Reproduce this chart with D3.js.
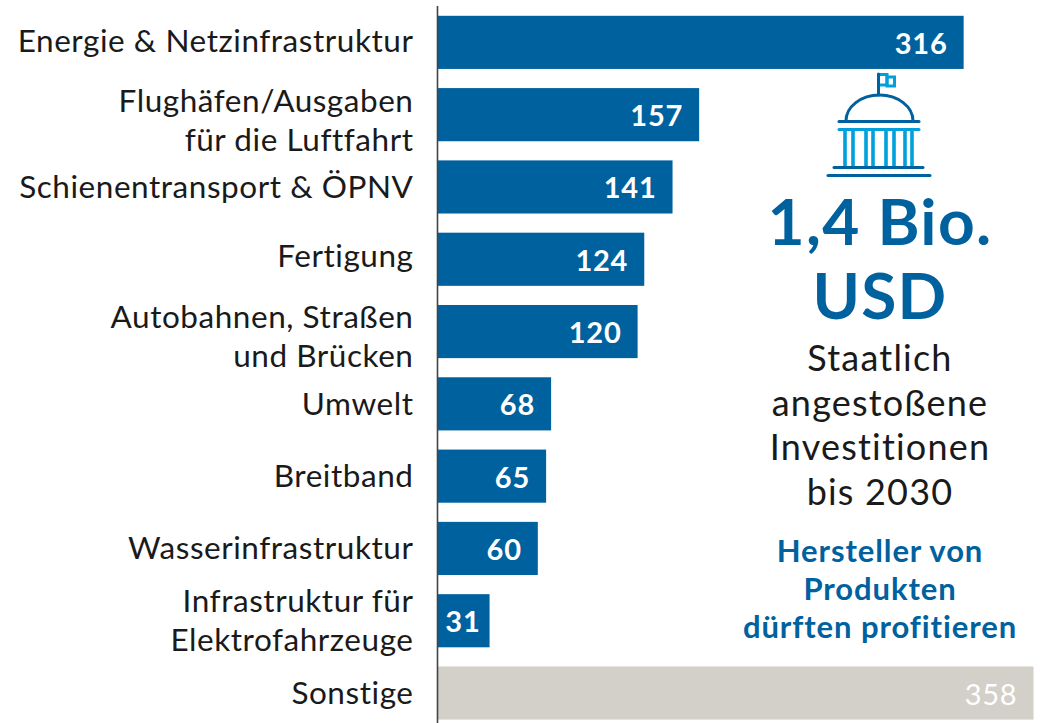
<!DOCTYPE html>
<html><head><meta charset="utf-8">
<script src="https://cdn.jsdelivr.net/npm/d3@7/dist/d3.min.js"></script>
<style>html,body{margin:0;padding:0;background:#fff}svg{display:block}text{font-family:Lato,"Open Sans",sans-serif}</style>
</head><body><svg id="c" width="1044" height="723"></svg>
<script>
const categories=[["Energie & Netzinfrastruktur"],["Flughäfen/Ausgaben","für die Luftfahrt"],["Schienentransport & ÖPNV"],["Fertigung"],["Autobahnen, Straßen","und Brücken"],["Umwelt"],["Breitband"],["Wasserinfrastruktur"],["Infrastruktur für","Elektrofahrzeuge"],["Sonstige"]];
const values=[316,157,141,124,120,68,65,60,31,358];
const headline=["1,4 Bio.","USD"];
const subtitle=["Staatlich","angestoßene","Investitionen","bis 2030"];
const note=["Hersteller von","Produkten","dürften profitieren"];
const BLUE="#00619f",LIGHT="#00a0dc",GREY="#d3cfc9";
const labelShift=[0,7,1,-2,6,1,1,1,1,1];
const svg=d3.select("#c");
const ids=categories.map((d,i)=>i);
const y=d3.scaleBand().domain(ids).range([15.8,719.6]).paddingInner(0.265);
const x=d3.scaleLinear().domain([0,358]).range([438,1033.5]);
svg.selectAll("rect.b").data(values).join("rect").attr("class","b")
 .attr("x",x(0)).attr("y",(d,i)=>y(i)).attr("width",d=>x(d)-x(0)).attr("height",y.bandwidth())
 .attr("fill",(d,i)=>i===9?GREY:BLUE);
svg.append("line").attr("x1",437.5).attr("x2",437.5).attr("y1",6).attr("y2",723).attr("stroke","#444").attr("stroke-width",1.6);
svg.selectAll("text.v").data(values).join("text").attr("class","v")
 .attr("x",d=>x(d)-(d<50?9:16)).attr("y",(d,i)=>y(i)+y.bandwidth()/2+11.5)
 .attr("text-anchor","end").attr("fill","#fff").attr("font-size",29).attr("font-weight",(d,i)=>i===9?400:700).attr("letter-spacing",0.8).text(d=>d);
categories.forEach((lines,i)=>{
 const mid=y(i)+y.bandwidth()/2+labelShift[i];
 lines.forEach((l,j)=>{
  svg.append("text").attr("x",413.5).attr("y",mid+10+(j-(lines.length-1)/2)*39)
   .attr("text-anchor","end").attr("fill","#1a1a1a").attr("font-size",31.5).attr("letter-spacing",0.55).text(l);
 });
});
const cx=880;
const hl=(arr,y0,dy,size,w,col,ls)=>arr.forEach((t,i)=>svg.append("text").attr("x",cx).attr("y",y0+i*dy).attr("text-anchor","middle").attr("fill",col).attr("font-size",size).attr("font-weight",w).attr("letter-spacing",ls).text(t));
hl(headline,245,74,64,700,BLUE,1.3);
hl(subtitle,371,44.5,36,400,"#1a1a1a",1.2);
hl(note,562,38,31,700,BLUE,0.9);
// Kapitol-Symbol
const g=svg.append("g").attr("fill","none").attr("stroke-linecap","round");
const ln=(a,b,c,d,col,w)=>g.append("line").attr("x1",a).attr("y1",b).attr("x2",c).attr("y2",d).attr("stroke",col).attr("stroke-width",w);
g.append("path").attr("d","M846 121A33.5 26 0 0 1 913 121").attr("stroke",BLUE).attr("stroke-width",3);
g.append("path").attr("d","M879 74.5H887V85H880").attr("stroke",LIGHT).attr("stroke-width",3);
g.append("rect").attr("x",887).attr("y",77).attr("width",7.5).attr("height",9).attr("stroke",LIGHT).attr("stroke-width",3);
ln(878.5,74,878.5,95,BLUE,3);
ln(839,121.5,919,121.5,BLUE,3);
ln(839,129.5,919,129.5,LIGHT,3);
[845,853,866,873,886,894,905,912].forEach(v=>ln(v,131,v,166,LIGHT,3.6));
ln(834,167.5,923,167.5,BLUE,3);
ln(828,175.5,930,175.5,BLUE,3);
</script></body></html>
